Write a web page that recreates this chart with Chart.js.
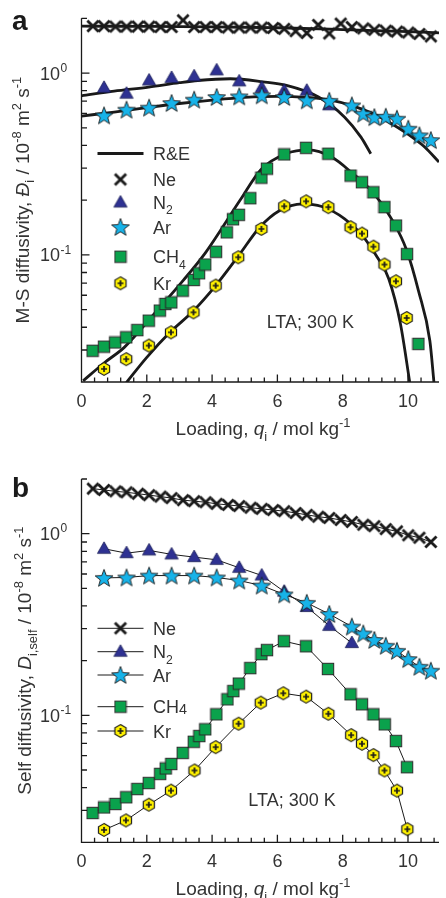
<!DOCTYPE html>
<html>
<head>
<meta charset="utf-8">
<script src="https://cdn.jsdelivr.net/npm/chart.js@4.4.1/dist/chart.umd.min.js"></script>
<style>
  body { margin: 0; background: #fff; width: 446px; height: 898px; overflow: hidden; position: relative; }
  canvas { position: absolute; left: 0; width: 446px; height: 449px; }
</style>
</head>
<body>
<canvas id="panelA" width="446" height="449" style="top:0"></canvas>
<canvas id="panelB" width="446" height="449" style="top:449px"></canvas>
<script>
// ---- (a) Maxwell-Stefan diffusivities, MD points ----
const qNe = [0.35, 0.69, 1.04, 1.38, 1.73, 2.07, 2.42, 2.76, 3.11, 3.45, 3.80, 4.14, 4.49, 4.83, 5.18, 5.52,
  5.87, 6.21, 6.56, 6.90, 7.25, 7.59, 7.94, 8.28, 8.63, 8.97, 9.32, 9.66, 10.01, 10.35, 10.70];
const msNe = [1.81, 1.81, 1.80, 1.80, 1.80, 1.80, 1.79, 1.79, 1.95, 1.79, 1.79, 1.79, 1.78, 1.78, 1.78, 1.78,
  1.77, 1.75, 1.70, 1.66, 1.84, 1.65, 1.87, 1.79, 1.76, 1.73, 1.71, 1.69, 1.67, 1.64, 1.59];
const qN2 = [0.69, 1.38, 2.07, 2.76, 3.45, 4.14, 4.83, 5.52, 6.21, 6.90, 7.59];
const msN2 = [0.83, 0.77, 0.91, 0.94, 0.96, 1.035, 0.90, 0.83, 0.80, 0.80, 0.665];
const qAr = [0.69, 1.38, 2.07, 2.76, 3.45, 4.14, 4.83, 5.52, 6.21, 6.90, 7.59, 8.28, 8.63, 8.97, 9.32, 9.66,
  10.01, 10.35, 10.70];
const msAr = [0.585, 0.629, 0.645, 0.684, 0.714, 0.738, 0.744, 0.754, 0.738, 0.708, 0.703, 0.664, 0.598,
  0.572, 0.575, 0.561, 0.494, 0.454, 0.428];
const qCH4 = [0.34, 0.69, 1.03, 1.37, 1.71, 2.06, 2.40, 2.57, 2.75, 3.10, 3.44, 3.60, 3.79, 4.12, 4.45, 4.64,
  4.82, 5.17, 5.51, 5.68, 6.21, 6.88, 7.56, 8.24, 8.59, 8.94, 9.28, 9.63, 9.97, 10.32];
const msCH4 = [0.0297, 0.0313, 0.0330, 0.0352, 0.0386, 0.0435, 0.0494, 0.0537, 0.0548, 0.0636, 0.0728, 0.0792,
  0.0885, 0.104, 0.133, 0.157, 0.166, 0.205, 0.266, 0.298, 0.357, 0.388, 0.360, 0.273, 0.251, 0.221, 0.183,
  0.145, 0.101, 0.0324];
const qKr = [0.69, 1.37, 2.06, 2.74, 3.43, 4.11, 4.80, 5.51, 6.21, 6.88, 7.56, 8.24, 8.59, 8.94, 9.28, 9.63, 9.96];
const msKr = [0.0236, 0.0267, 0.0317, 0.0375, 0.0483, 0.0678, 0.097, 0.139, 0.185, 0.197, 0.183, 0.142, 0.131,
  0.111, 0.0885, 0.0716, 0.045];

// ---- (a) R&E model curves ----
const reQNe = [0, 2, 4, 6, 8, 10, 10.95];
const reNe = [1.81, 1.805, 1.795, 1.775, 1.735, 1.69, 1.665];
const reQN2 = [0, 1.0, 2.06, 3.0, 3.56, 4.56, 5.56, 6.28, 7.26, 8.06, 8.56, 8.86];
const reN2 = [0.75, 0.795, 0.837, 0.885, 0.91, 0.93, 0.895, 0.855, 0.738, 0.572, 0.444, 0.36];
const reQAr = [0, 1, 2, 3, 4, 5, 6, 6.9, 7.6, 8.3, 9.0, 9.7, 10.2, 10.52, 10.95];
const reAr = [0.58, 0.61, 0.645, 0.68, 0.71, 0.735, 0.745, 0.735, 0.712, 0.66, 0.59, 0.5, 0.435, 0.391, 0.324];
const reQCH4 = [0.05, 0.71, 1.31, 2.31, 3.11, 3.8, 4.85, 5.5, 6.26, 6.96, 7.66, 8.26, 8.96, 9.56, 9.96, 10.32,
  10.67, 10.8];
const reCH4 = [0.0203, 0.0256, 0.031, 0.0493, 0.0722, 0.103, 0.199, 0.295, 0.36, 0.378, 0.345, 0.285, 0.217,
  0.151, 0.106, 0.0636, 0.0337, 0.0195];
const reQKr = [1.37, 2.0, 2.71, 3.43, 4.11, 4.81, 5.46, 6.06, 6.77, 7.36, 8.06, 8.56, 9.06, 9.41, 9.77, 10.06];
const reKr = [0.0198, 0.0273, 0.0375, 0.0493, 0.0678, 0.099, 0.142, 0.175, 0.191, 0.1845, 0.158, 0.1305, 0.097,
  0.074, 0.0417, 0.0196];

// ---- (b) self diffusivities ----
const sdNe = [1.77, 1.74, 1.71, 1.69, 1.66, 1.63, 1.60, 1.57, 1.53, 1.51, 1.49, 1.46, 1.44, 1.42, 1.39, 1.37,
  1.35, 1.33, 1.30, 1.27, 1.24, 1.22, 1.19, 1.16, 1.12, 1.10, 1.06, 1.03, 0.98, 0.95, 0.90];
const qN2s = [0.69, 1.38, 2.07, 2.76, 3.45, 4.14, 4.83, 5.52, 6.21, 6.90, 7.59, 8.28];
const sdN2 = [0.826, 0.781, 0.809, 0.769, 0.743, 0.718, 0.649, 0.589, 0.48, 0.395, 0.311, 0.25];
const sdAr = [0.571, 0.574, 0.588, 0.588, 0.588, 0.574, 0.552, 0.518, 0.463, 0.416, 0.361, 0.308, 0.282, 0.26,
  0.2415, 0.2265, 0.204, 0.185, 0.176];
const qCH4s = [0.34, 0.69, 1.04, 1.37, 1.71, 2.06, 2.41, 2.58, 2.75, 3.10, 3.44, 3.61, 3.79, 4.13, 4.47, 4.65,
  4.82, 5.17, 5.51, 5.68, 6.20, 6.88, 7.55, 8.24, 8.59, 8.94, 9.29, 9.63, 9.97];
const sdCH4 = [0.029, 0.0311, 0.0325, 0.0354, 0.0393, 0.0424, 0.0476, 0.051, 0.054, 0.0621, 0.0715, 0.0769,
  0.0837, 0.1013, 0.1225, 0.136, 0.1495, 0.182, 0.2173, 0.2286, 0.256, 0.240, 0.180, 0.1306, 0.115, 0.1013,
  0.0892, 0.0722, 0.0518];
const qKrs = [0.69, 1.36, 2.06, 2.74, 3.46, 4.11, 4.81, 5.49, 6.18, 6.88, 7.56, 8.26, 8.59, 8.94, 9.28, 9.66, 9.98];
const sdKr = [0.0234, 0.0264, 0.0322, 0.0385, 0.0497, 0.0668, 0.0899, 0.1174, 0.1323, 0.1267, 0.102, 0.0778,
  0.0697, 0.0604, 0.0497, 0.0385, 0.0236];

// axis ticks and labels
const X_MAX = 10.95;
const xLabels = [0, 2, 4, 6, 8, 10];
const yTicks = [0.02, 0.03, 0.04, 0.05, 0.06, 0.07, 0.08, 0.09, 0.1, 0.2, 0.3, 0.4, 0.5, 0.6, 0.7, 0.8, 0.9, 1, 2];
const yLabelValues = [0.1, 1];
const yLabelExps = ['-1', '0'];

const INK = '#1a1a1a';
const TEXT = '#333333';
const FONT = '"Liberation Sans", Arial, Helvetica, sans-serif';

// marker images
function marker(size, paint) {
  const c = document.createElement('canvas');
  c.width = size; c.height = size;
  const g = c.getContext('2d');
  g.translate(size / 2, size / 2);
  paint(g);
  return c;
}
const crossMark = marker(16, g => {
  g.strokeStyle = INK; g.lineWidth = 2.8;
  g.beginPath();
  g.moveTo(-5.6, -5.6); g.lineTo(5.6, 5.6);
  g.moveTo(5.6, -5.6); g.lineTo(-5.6, 5.6);
  g.stroke();
});
const triMark = marker(18, g => {
  g.beginPath();
  g.moveTo(0, -7); g.lineTo(6.6, 4.6); g.lineTo(-6.6, 4.6); g.closePath();
  g.fillStyle = '#2e3192'; g.fill();
  g.strokeStyle = '#161a55'; g.lineWidth = 0.8; g.stroke();
});
const starMark = marker(22, g => {
  g.beginPath();
  for (let k = 0; k < 10; k++) {
    const r = k % 2 ? 3.9 : 9.3;
    const t = -Math.PI / 2 + k * Math.PI / 5;
    g.lineTo(r * Math.cos(t), r * Math.sin(t) + 0.8);
  }
  g.closePath();
  g.fillStyle = '#17b3e9'; g.fill();
  g.strokeStyle = INK; g.lineWidth = 0.9; g.stroke();
});
const squareMark = marker(14, g => {
  g.fillStyle = '#0aa24c';
  g.fillRect(-5.7, -5.7, 11.4, 11.4);
  g.strokeStyle = '#2a2a2a'; g.lineWidth = 1;
  g.strokeRect(-5.7, -5.7, 11.4, 11.4);
});
const hexMark = marker(16, g => {
  g.beginPath();
  for (let k = 0; k < 6; k++) {
    const t = -Math.PI / 2 + k * Math.PI / 3;
    g.lineTo(6.4 * Math.cos(t), 6.4 * Math.sin(t));
  }
  g.closePath();
  g.fillStyle = '#fff200'; g.fill();
  g.strokeStyle = INK; g.lineWidth = 1.2; g.stroke();
  g.beginPath();
  g.moveTo(-3, 0); g.lineTo(3, 0); g.moveTo(0, -3); g.lineTo(0, 3);
  g.lineWidth = 1.7; g.stroke();
});

// text with sub/superscripts: strings are plain, [text, flag] pairs are styled
function fontOf(p, size) {
  let s = size;
  if (p.sub || p.sup) s = size * 0.68;
  if (p.small) s = size * 0.8;
  return (p.it ? 'italic ' : '') + s.toFixed(1) + 'px ' + FONT;
}
function normParts(parts) {
  return parts.map(p => typeof p === 'string' ? { t: p } : { t: p[0], [p[1]]: true });
}
function drawRich(ctx, parts, x, y, size, align) {
  const list = normParts(parts);
  let w = 0;
  for (const p of list) { ctx.font = fontOf(p, size); w += ctx.measureText(p.t).width; }
  if (align === 'center') x -= w / 2;
  ctx.textAlign = 'left';
  ctx.textBaseline = 'alphabetic';
  for (const p of list) {
    ctx.font = fontOf(p, size);
    const dy = p.sub ? size * 0.3 : p.sup ? -size * 0.42 : p.small ? 1 : 0;
    ctx.fillText(p.t, x, y + dy);
    x += ctx.measureText(p.t).width;
  }
}

const xTitle = ['Loading, ', ['q', 'it'], ['i', 'sub'], ' / mol kg', ['-1', 'sup']];

function framePlugin(panel) {
  return {
    id: 'frame',
    afterDraw(chart) {
      const { ctx, chartArea: a, scales: { x, y } } = chart;
      ctx.save();
      ctx.strokeStyle = INK;
      ctx.fillStyle = TEXT;
      ctx.lineWidth = 1.3;
      ctx.beginPath();
      ctx.moveTo(a.left, a.top); ctx.lineTo(a.left, a.bottom); ctx.lineTo(a.right, a.bottom);
      for (const v of yTicks) {
        const py = y.getPixelForValue(v);
        const len = yLabelValues.includes(v) ? 8 : 5.5;
        ctx.moveTo(a.left, py); ctx.lineTo(a.left + len, py);
      }
      for (let i = 0; i <= 27; i++) {
        const px = x.getPixelForValue(i * 0.4);
        const len = i % 5 === 0 ? 7.5 : 4.5;
        ctx.moveTo(px, a.bottom); ctx.lineTo(px, a.bottom - len);
      }
      ctx.stroke();

      // tick labels
      yLabelValues.forEach((v, i) => {
        const py = y.getPixelForValue(v);
        ctx.font = '18px ' + FONT; ctx.textAlign = 'right'; ctx.textBaseline = 'middle';
        ctx.fillText('10', 60, py + 1.5);
        ctx.font = '12px ' + FONT; ctx.textAlign = 'left';
        ctx.fillText(yLabelExps[i], 60.5, py - 4.5);
      });
      ctx.font = '18px ' + FONT; ctx.textAlign = 'center'; ctx.textBaseline = 'middle';
      for (const v of xLabels) ctx.fillText(String(v), x.getPixelForValue(v), a.bottom + 20);

      // axis titles
      drawRich(ctx, xTitle, 263, a.bottom + 53, 19, 'center');
      ctx.save();
      ctx.translate(panel.yTitleX, (a.top + a.bottom) / 2);
      ctx.rotate(-Math.PI / 2);
      drawRich(ctx, panel.yTitle, 0, 0, 19, 'center');
      ctx.restore();

      // panel letter and condition note
      ctx.font = 'bold 28px ' + FONT; ctx.textAlign = 'left'; ctx.textBaseline = 'alphabetic';
      ctx.fillStyle = INK;
      ctx.fillText(panel.letter, 12, panel.letterY);
      ctx.fillStyle = TEXT;
      drawRich(ctx, ['LTA; 300 K'], panel.note[0], panel.note[1], 18, 'left');

      // legend
      for (const item of panel.legend) {
        if (item.line) {
          ctx.strokeStyle = INK; ctx.lineWidth = item.line;
          ctx.beginPath(); ctx.moveTo(97.5, item.y); ctx.lineTo(143.5, item.y); ctx.stroke();
        }
        if (item.mark) ctx.drawImage(item.mark, 120.5 - item.mark.width / 2, item.y - item.mark.height / 2);
        ctx.fillStyle = TEXT;
        drawRich(ctx, item.text, 153, item.y + 6.5, 18, 'left');
      }
      ctx.restore();
    }
  };
}

const pts = (xs, ys) => xs.map((v, i) => ({ x: v, y: ys[i] }));

function curve(xs, ys) {
  return {
    data: pts(xs, ys), showLine: true, borderColor: INK, borderWidth: 2.8, pointRadius: 0,
    cubicInterpolationMode: 'monotone', clip: 0, order: 10
  };
}
function symbols(xs, ys, mark, order) {
  return { data: pts(xs, ys), showLine: false, pointStyle: mark, pointRadius: 6, clip: false, order };
}
function joined(xs, ys, mark, order) {
  return {
    data: pts(xs, ys), showLine: true, borderColor: INK, borderWidth: 1, pointStyle: mark, pointRadius: 6,
    clip: false, order
  };
}

function makeChart(id, datasets, padding, panel) {
  return new Chart(document.getElementById(id), {
    type: 'scatter',
    data: { datasets },
    options: {
      responsive: false,
      animation: false,
      events: [],
      layout: { padding },
      scales: {
        x: { type: 'linear', min: 0, max: X_MAX, display: false },
        y: { type: 'logarithmic', min: 0.02, max: 2, display: false }
      },
      plugins: { legend: { display: false }, tooltip: { enabled: false } }
    },
    plugins: [framePlugin(panel)]
  });
}

makeChart('panelA', [
  curve(reQNe, reNe), curve(reQN2, reN2), curve(reQAr, reAr), curve(reQCH4, reCH4), curve(reQKr, reKr),
  symbols(qNe, msNe, crossMark, 5),
  symbols(qN2, msN2, triMark, 2),
  symbols(qAr, msAr, starMark, 1),
  symbols(qCH4, msCH4, squareMark, 4),
  symbols(qKr, msKr, hexMark, 3)
], { left: 81.5, top: 18.3, right: 0, bottom: 67 }, {
  letter: 'a', letterY: 30,
  yTitleX: 28.5,
  yTitle: ['M-S diffusivity, ', ['Đ', 'it'], ['i', 'sub'], ' / 10', ['-8', 'sup'], ' m', ['2', 'sup'], ' s', ['-1', 'sup']],
  note: [266.7, 328],
  legend: [
    { line: 3, y: 153.5, text: ['R&E'] },
    { mark: crossMark, y: 179.5, text: ['Ne'] },
    { mark: triMark, y: 202.5, text: ['N', ['2', 'sub']] },
    { mark: starMark, y: 227, text: ['Ar'] },
    { mark: squareMark, y: 256.7, text: ['CH', ['4', 'sub']] },
    { mark: hexMark, y: 283.3, text: ['Kr'] }
  ]
});

makeChart('panelB', [
  joined(qNe, sdNe, crossMark, 5),
  joined(qN2s, sdN2, triMark, 2),
  joined(qAr, sdAr, starMark, 1),
  joined(qCH4s, sdCH4, squareMark, 3),
  joined(qKrs, sdKr, hexMark, 4)
], { left: 81.5, top: 30, right: 0, bottom: 55.7 }, {
  letter: 'b', letterY: 47.7,
  yTitleX: 31,
  yTitle: ['Self diffusivity, ', ['D', 'it'], ['i,self', 'sub'], ' / 10', ['-8', 'sup'], ' m', ['2', 'sup'], ' s', ['-1', 'sup']],
  note: [248.3, 356.7],
  legend: [
    { line: 1, mark: crossMark, y: 179.3, text: ['Ne'] },
    { line: 1, mark: triMark, y: 202.7, text: ['N', ['2', 'sub']] },
    { line: 1, mark: starMark, y: 226, text: ['Ar'] },
    { line: 1, mark: squareMark, y: 257.7, text: ['CH', ['4', 'small']] },
    { line: 1, mark: hexMark, y: 282, text: ['Kr'] }
  ]
});
</script>
</body>
</html>
